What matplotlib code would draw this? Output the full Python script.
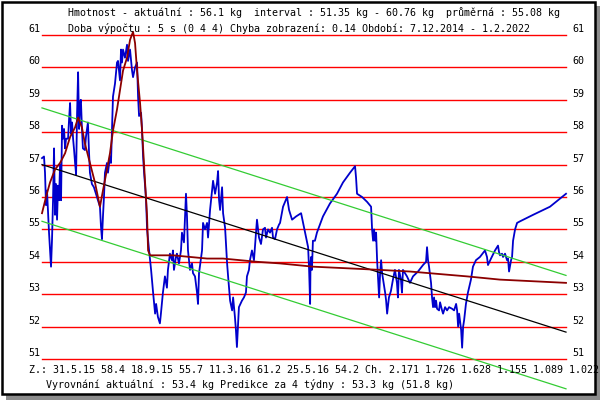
import matplotlib
matplotlib.use("Agg")
import matplotlib.pyplot as plt
from matplotlib import transforms
from matplotlib.patches import Rectangle

# weight readings: days since 7.12.2014, kg
days = [0, 10, 15, 20, 25, 30, 35, 40, 45, 50, 55, 60, 65, 70, 75, 80, 85, 90, 95,
        100, 105, 110, 115, 120, 130, 135, 140, 145, 150, 155, 160, 165, 170, 175,
        180, 185, 190, 194, 199, 204, 214, 219, 229, 234, 239, 249, 259, 264, 274,
        279, 289, 294, 299, 304, 309, 314, 324, 329, 339, 344, 354, 364, 374, 379,
        389, 394, 399, 404, 414, 424, 429, 439, 449, 454, 464, 474, 479, 484, 494,
        499, 504, 509, 514, 519, 524, 534, 544, 554, 564, 569, 578, 588, 593, 603,
        613, 623, 628, 638, 648, 653, 658, 668, 673, 683, 693, 698, 708, 718, 723,
        728, 738, 748, 753, 763, 773, 778, 783, 798, 803, 813, 823, 828, 838, 848,
        853, 863, 873, 878, 883, 888, 898, 903, 913, 923, 928, 938, 948, 953, 962,
        967, 972, 977, 982, 997, 1007, 1017, 1022, 1032, 1037, 1047, 1057, 1067,
        1072, 1082, 1092, 1102, 1112, 1117, 1127, 1137, 1147, 1152, 1162, 1172,
        1182, 1187, 1202, 1222, 1232, 1247, 1267, 1292, 1302, 1317, 1327, 1332,
        1337, 1339, 1342, 1346, 1351, 1361, 1371, 1401, 1436, 1471, 1501, 1536,
        1561, 1566, 1571, 1596, 1621, 1641, 1646, 1651, 1656, 1661, 1666, 1671,
        1676, 1681, 1686, 1691, 1696, 1701, 1711, 1716, 1721, 1730, 1740, 1750,
        1760, 1770, 1775, 1780, 1790, 1795, 1800, 1810, 1820, 1835, 1850, 1875,
        1900, 1915, 1920, 1925, 1930, 1940, 1945, 1950, 1955, 1960, 1965, 1970,
        1980, 1985, 1995, 2000, 2010, 2020, 2030, 2045, 2055, 2065, 2070, 2075,
        2080, 2090, 2095, 2100, 2105, 2114, 2124, 2139, 2149, 2164, 2184, 2209,
        2219, 2224, 2239, 2259, 2274, 2279, 2284, 2294, 2299, 2309, 2319, 2324,
        2329, 2339, 2344, 2349, 2359, 2369, 2384, 2449, 2533, 2613]
weight = [57.2, 57.25, 56.75, 55.75, 56.2, 55.55, 54.9, 54.35, 53.85, 54.7, 55.9,
          57.5, 55.45, 56.4, 55.3, 56.35, 55.9, 57.0, 55.9, 58.2, 57.8, 58.1, 57.5,
          57.8, 57.8, 58.4, 58.9, 57.95, 58.3, 57.8, 57.45, 57.05, 56.7, 58.6, 59.85,
          58.1, 58.9, 59.0, 58.15, 57.5, 57.45, 57.85, 58.3, 57.45, 56.75, 56.4, 56.3,
          56.2, 56.0, 55.9, 55.7, 55.1, 54.7, 55.4, 56.0, 56.75, 57.05, 56.75, 57.25,
          57.05, 59.1, 59.5, 60.15, 60.2, 59.6, 60.55, 60.15, 60.55, 60.3, 60.7, 60.2,
          60.55, 59.9, 59.7, 60.0, 60.15, 59.1, 58.5, 58.6, 58.05, 57.25, 56.75, 56.35,
          55.9, 55.0, 54.35, 53.75, 53.05, 52.4, 52.7, 52.3, 52.1, 52.4, 53.05, 53.55,
          53.2, 53.75, 54.25, 54.05, 54.35, 53.75, 54.15, 54.25, 53.95, 54.35, 54.9,
          54.6, 56.1, 55.4, 54.35, 53.75, 53.95, 53.65, 53.55, 53.05, 52.7, 53.65,
          54.35, 55.2, 55.0, 55.2, 54.75, 55.6, 56.2, 56.5, 56.1, 56.45, 56.8, 55.9,
          55.6, 56.3, 55.5, 55.05, 53.95, 53.55, 52.8, 52.5, 52.9, 52.3, 51.9, 51.37,
          52.0, 52.6, 52.8, 52.9, 53.05, 53.55, 53.75, 54.05, 54.35, 54.05, 54.9, 55.3,
          54.75, 54.55, 55.0, 55.05, 54.75, 55.0, 54.9, 55.05, 54.75, 54.7, 55.0, 55.15,
          55.2, 55.7, 56.0, 55.6, 55.3, 55.4, 55.5, 55.2, 54.75, 54.45, 53.75, 52.7,
          53.95, 54.15, 53.75, 54.65, 54.65, 54.9, 55.4, 55.8, 56.1, 56.45, 56.75,
          56.95, 56.6, 56.1, 56.0, 55.85, 55.7, 55.0, 54.65, 55.0, 54.65, 54.9, 54.05,
          53.45, 52.9, 53.65, 54.05, 53.65, 53.45, 53.05, 52.8, 52.4, 52.9, 53.1,
          53.45, 53.75, 53.35, 52.9, 53.75, 53.45, 53.05, 53.75, 53.65, 53.55, 53.35,
          53.55, 53.7, 53.9, 54.0, 54.45, 54.05, 53.85, 53.35, 52.9, 52.6, 52.9, 52.6,
          52.8, 52.55, 52.5, 52.75, 52.5, 52.4, 52.6, 52.5, 52.6, 52.55, 52.5, 52.7,
          52.5, 52.0, 52.4, 51.9, 51.35, 52.0, 52.2, 52.7, 53.05, 53.45, 53.85, 54.05,
          54.15, 54.35, 54.15, 53.9, 54.1, 54.35, 54.5, 54.3, 54.2, 54.25, 54.15, 54.25,
          54.05, 54.1, 53.7, 54.05, 54.15, 54.65, 55.0, 55.2, 55.25, 55.45, 55.7, 56.1]

# smoothed weight ("vyrovnani")
smooth_days = [0, 20, 40, 65, 90, 115, 140, 165, 180, 199, 214, 239, 264, 279, 289,
               304, 324, 339, 354, 374, 389, 404, 424, 439, 454, 464, 474, 489, 499,
               514, 524, 529, 539, 653, 738, 823, 903, 988, 1072, 1187, 1351, 1521,
               1686, 1835, 2119, 2284, 2613]
smooth_weight = [55.5, 56.0, 56.45, 56.85, 57.05, 57.35, 57.85, 58.15, 58.45, 58.15,
                 57.65, 57.05, 56.45, 56.0, 55.7, 56.2, 56.85, 57.35, 58.05, 58.7,
                 59.3, 59.9, 60.3, 60.85, 61.1, 60.75, 59.9, 58.9, 58.05, 56.45, 55.4,
                 54.35, 54.2, 54.2, 54.15, 54.1, 54.1, 54.05, 54.0, 53.95, 53.85, 53.8,
                 53.75, 53.7, 53.55, 53.45, 53.35]

# linear trend and its band
trend_days = [0, 2613]
trend_weight = [57.0, 51.83]
band = 1.75

grid_kg = [51, 52, 53, 54, 55, 56, 57, 58, 59, 60, 61]

header1 = "Hmotnost - aktuální : 56.1 kg  interval : 51.35 kg - 60.76 kg  průměrná : 55.08 kg"
header2 = "Doba výpočtu : 5 s (0 4 4) Chyba zobrazení: 0.14 Období: 7.12.2014 - 1.2.2022"
footer1 = ("Z.: 31.5.15 58.4 18.9.15 55.7 11.3.16 61.2 25.5.16 54.2 "
           "Ch. 2.171 1.726 1.628 1.155 1.089 1.022")
footer2 = "Vyrovnání aktuální : 53.4 kg Predikce za 4 týdny : 53.3 kg (51.8 kg)"

W, H = 600, 400
fig = plt.figure(figsize=(6, 4), dpi=100)

# frame with drop shadow, kept behind the axes
fig.patches.append(Rectangle((6 / W, 0), 594 / W, 394 / H, transform=fig.transFigure,
                             facecolor='#8c8c8c', edgecolor='none', zorder=-3))
fig.patches.append(Rectangle((1.5 / W, 6 / H), 593 / W, 392.5 / H, transform=fig.transFigure,
                             facecolor='white', edgecolor='black', lw=1.8, zorder=-2))

ax = fig.add_axes([42 / W, 41 / H, 524 / W, 324 / H])
ax.set_axis_off()
ax.set_xlim(0, 2613)
ax.set_ylim(51, 61)

for v in grid_kg:
    ax.axhline(v, color='#ff0000', lw=1.0, clip_on=False, zorder=1)

ax.plot(days, weight, color='#0000cc', lw=1.3, clip_on=False, zorder=3)
up = [w + band for w in trend_weight]
lo = [w - band for w in trend_weight]
ax.plot(trend_days, up, color='#33cc33', lw=0.9, clip_on=False, zorder=4)
ax.plot(trend_days, lo, color='#33cc33', lw=0.9, clip_on=False, zorder=4)
ax.plot(trend_days, trend_weight, color='black', lw=0.9, clip_on=False, zorder=4)
ax.plot(smooth_days, smooth_weight, color='#8b0000', lw=1.3, clip_on=False, zorder=5)

mono = 'DejaVu Sans Mono'
fs = 7.2
lab = transforms.offset_copy(
    transforms.blended_transform_factory(fig.transFigure, ax.transData),
    fig=fig, x=0, y=6, units='dots')
for v in grid_kg:
    fig.text(40 / W, v, str(v), transform=lab, ha='right', va='center',
             family=mono, fontsize=fs)
    fig.text(572 / W, v, str(v), transform=lab, ha='left', va='center',
             family=mono, fontsize=fs)

fig.text(68 / W, 1 - 13 / H, header1, ha='left', va='center', family=mono, fontsize=fs)
fig.text(68 / W, 1 - 29 / H, header2, ha='left', va='center', family=mono, fontsize=fs)
fig.text(29 / W, 1 - 370 / H, footer1, ha='left', va='center', family=mono, fontsize=fs)
fig.text(46 / W, 1 - 384 / H, footer2, ha='left', va='center', family=mono, fontsize=fs)

fig.savefig("out.png", dpi=100)
